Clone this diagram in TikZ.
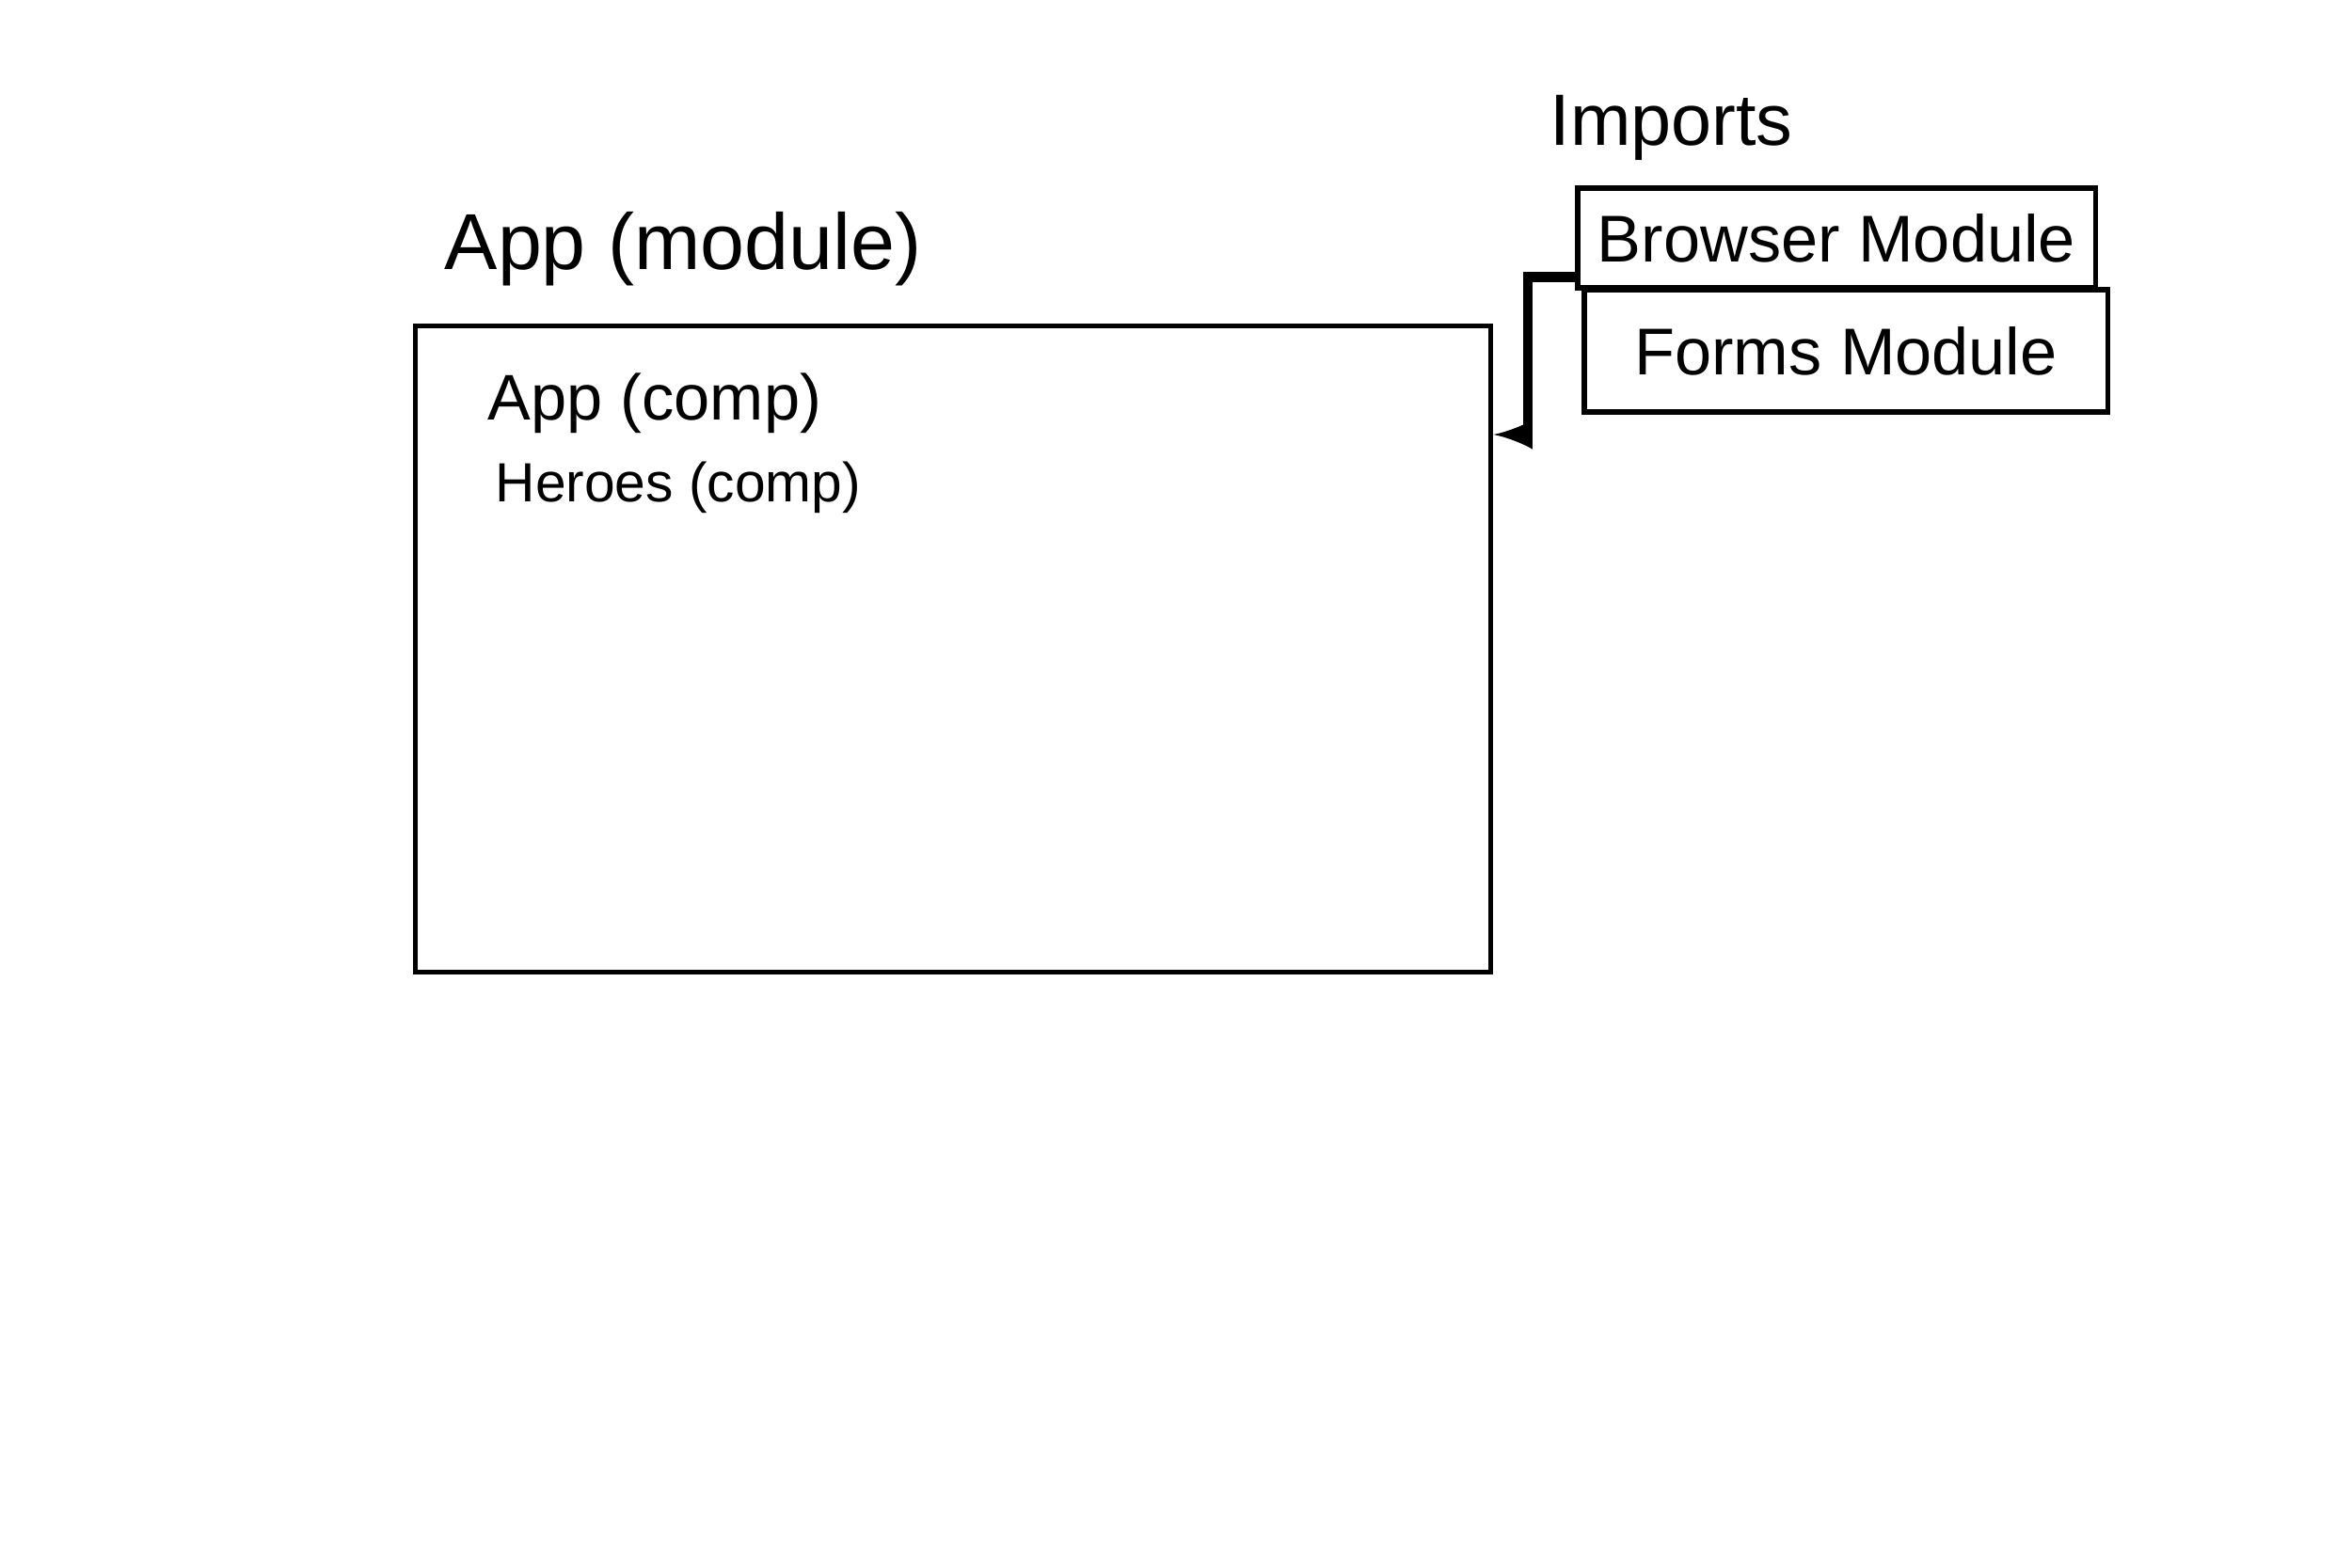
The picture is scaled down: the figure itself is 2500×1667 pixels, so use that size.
\documentclass[tikz,border=0pt]{standalone}
\usepackage{fontspec}
\setmainfont{Liberation Sans}

\begin{document}
\begin{tikzpicture}
[x=0.01cm,y=-0.01cm,
  boxDecorate/.style={shape=rectangle,draw,line width=1.5pt,inner sep=0pt},%
  labelDecorate/.style={anchor=base west,inner sep=0pt},%
  lineDecorate/.style={-latex,line width=3pt}]
\useasboundingbox (0,0) rectangle (2500,1667);
%% titles
\node (apptitle) at (472,287) [labelDecorate,font=\fontsize{24}{28}\selectfont] {App (module)};
\node (imports) at (1647,155) [labelDecorate,font=\fontsize{22}{26}\selectfont] {Imports};
%% module box and its components
\node (appmod) at (1013,690) [boxDecorate,minimum width=11.43cm,minimum height=6.87cm] {};
\node (appcomp) at (518,447) [labelDecorate,font=\fontsize{19.5}{22}\selectfont] {App (comp)};
\node (heroescomp) at (526,533) [labelDecorate,font=\fontsize{16.7}{20}\selectfont] {Heroes (comp)};
%% imported modules
\node (browsermod) at (1952,253) [boxDecorate,minimum width=5.5cm,minimum height=1.06cm,
  font=\fontsize{20}{24}\selectfont] {Browser Module};
\node (formsmod) at (1962,373) [boxDecorate,minimum width=5.56cm,minimum height=1.3cm,
  font=\fontsize{20}{24}\selectfont] {Forms Module};
%% import connector
\coordinate (elbow) at (1624,462);
\draw[lineDecorate] ([yshift=0.14cm]browsermod.south west) -| (elbow) -- (elbow -| appmod.east);
\end{tikzpicture}
\end{document}
